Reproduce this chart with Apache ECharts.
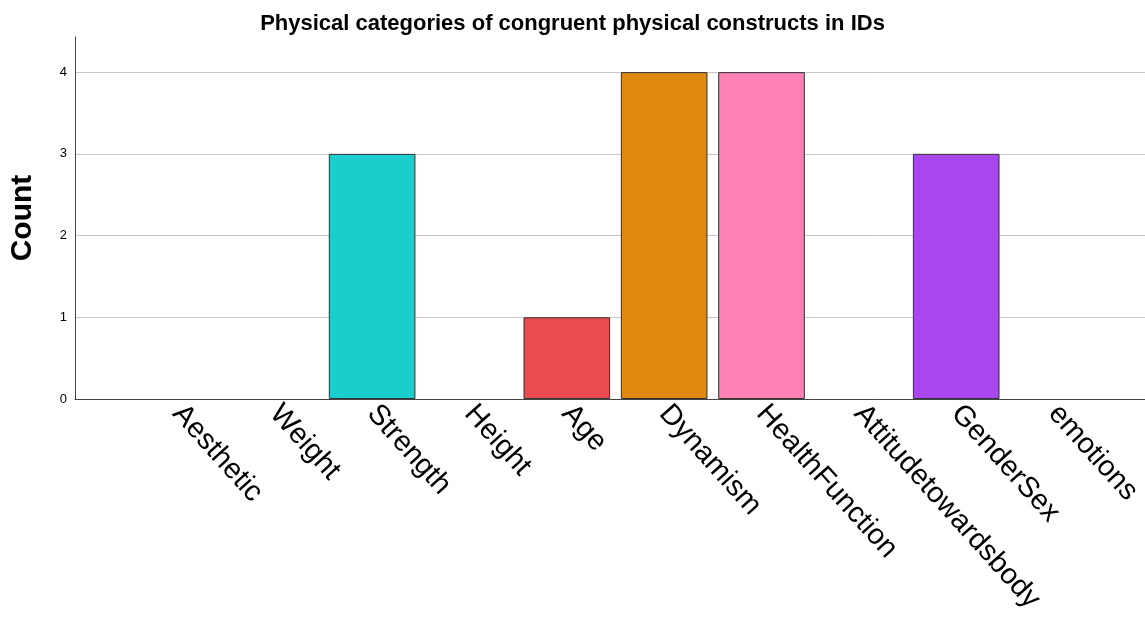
<!DOCTYPE html>
<html>
<head>
<meta charset="utf-8">
<script src="https://cdn.jsdelivr.net/npm/echarts@6/dist/echarts.min.js"></script>
<style>
html,body{margin:0;padding:0;background:#fff;}
#chart{width:1145px;height:620px;}
</style>
</head>
<body>
<div id="chart"></div>
<script>
const categories = ['Aesthetic','Weight','Strength','Height','Age','Dynamism','HealthFunction','Attitudetowardsbody','GenderSex','emotions'];
const counts = [0,0,3,0,1,4,4,0,3,0];
const barColors = ['#3e58ac','#2eb848','#1ccdcd','#d3ce97','#ea4b4e','#e0890f','#ff80b3','#7c7c7c','#a846f0','#999999'];
const yTicks = [0,1,2,3,4];

const chart = echarts.init(document.getElementById('chart'), null, {renderer:'canvas'});
const gridTop = 37, gridBottom = 221;
chart.setOption({
  animation: false,
  backgroundColor: '#fff',
  title: {
    text: 'Physical categories of congruent physical constructs in IDs',
    left: 'center', top: 8,
    textStyle: {fontFamily: 'Liberation Sans, Arial, sans-serif', fontSize: 22, fontWeight: 'bold', color: '#000'}
  },
  grid: [
    {left: 75, right: 0, top: gridTop, bottom: gridBottom},
    {left: 128.75, right: 41.25, top: gridTop, bottom: gridBottom}
  ],
  xAxis: [
    {gridIndex: 0, type: 'value', min: 0, max: 1,
     axisLine: {show: true, onZero: false, lineStyle: {color: '#444', width: 1}},
     axisTick: {show: false}, axisLabel: {show: false}, splitLine: {show: false}},
    {gridIndex: 1, type: 'category', data: categories,
     axisLine: {show: false}, axisTick: {show: false},
     axisLabel: {rotate: -48, interval: 0, margin: 10, color: '#000',
       fontFamily: 'Liberation Sans, Arial, sans-serif', fontSize: 29}}
  ],
  yAxis: [
    {gridIndex: 0, type: 'value', min: yTicks[0], max: 4.43, interval: 1,
     name: 'Count', nameLocation: 'middle', nameGap: 37, nameRotate: 90,
     nameTextStyle: {fontFamily: 'Liberation Sans, Arial, sans-serif', fontSize: 30, fontWeight: 'bold', color: '#000'},
     axisLine: {show: true, lineStyle: {color: '#444', width: 1}},
     axisTick: {show: false},
     axisLabel: {margin: 8, color: '#000', fontFamily: 'Liberation Sans, Arial, sans-serif', fontSize: 13,
       formatter: v => yTicks.includes(v) ? String(v) : ''},
     splitLine: {show: true, lineStyle: {color: ['#c8c8c8','#c8c8c8','#c8c8c8','#c8c8c8','#c8c8c8','rgba(0,0,0,0)'], width: 1}}},
    {gridIndex: 1, type: 'value', min: 0, max: 4.43, show: false, splitLine: {show: false}}
  ],
  series: [{
    type: 'bar', xAxisIndex: 1, yAxisIndex: 1,
    barCategoryGap: '11%',
    data: counts.map((v, i) => ({value: v, itemStyle: {color: barColors[i], borderColor: '#333', borderWidth: v > 0 ? 1 : 0}}))
  }]
});
</script>
</body>
</html>
